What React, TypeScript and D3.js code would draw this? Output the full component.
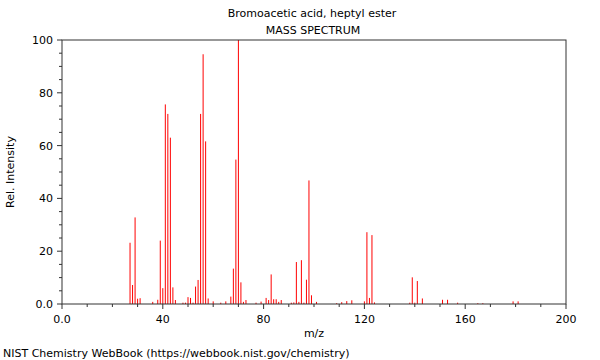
import React from "react";
import * as d3 from "d3";

const mz = [27, 28, 29, 30, 31, 36, 38, 39, 40, 41, 42, 43, 44, 45, 48, 49, 50, 51, 52, 53, 54, 55, 56, 57, 58, 60, 63, 65, 67, 68, 69, 70, 71, 72, 73, 77, 79, 81, 82, 83, 84, 85, 86, 87, 91, 92, 93, 94, 95, 96, 97, 98, 99, 101, 109, 111, 113, 115, 120, 121, 122, 123, 124, 138, 139, 140, 141, 143, 151, 153, 157, 165, 167, 179, 181];
const intensity = [23.2, 7.2, 32.8, 2, 2.2, 0.8, 1.6, 24, 6, 75.6, 72, 63, 6.3, 1.5, 0.5, 0.5, 2.6, 2.3, 0.5, 6.6, 9.1, 72, 94.6, 61.6, 2.1, 1, 0.5, 1, 2.8, 13.4, 54.7, 100, 8.2, 0.8, 1.5, 0.5, 0.9, 2.3, 1.5, 11.2, 1.8, 1.8, 0.8, 1.5, 0.5, 0.6, 15.9, 0.8, 16.6, 0.5, 9.2, 46.8, 3.3, 0.8, 0.3, 0.7, 1.1, 1.4, 1, 27.2, 2.3, 26.1, 0.6, 0.5, 10.1, 0.5, 8.7, 2.1, 1.6, 1.6, 0.5, 0.3, 0.3, 1, 1];

const xMajor = [0, 40, 80, 120, 160, 200];
const xMinor = d3.range(0, 201, 10);
const yMajor = [0, 20, 40, 60, 80, 100];
const yMinor = d3.range(0, 101, 5);

const title1 = "Bromoacetic acid, heptyl ester";
const title2 = "MASS SPECTRUM";
const xLabel = "m/z";
const yLabel = "Rel. Intensity";
const footer = "NIST Chemistry WebBook (https://webbook.nist.gov/chemistry)";

export default function App() {
  const W = 600, H = 360;
  const L = 62, R = 566, T = 40, B = 304;
  const x = d3.scaleLinear().domain([0, 200]).range([L, R]);
  const y = d3.scaleLinear().domain([0, 100]).range([B, T]);
  const font = "DejaVu Sans, sans-serif";
  const fmt = (v: number) => (v === 0 ? "0.0" : String(v));
  return (
    <svg width={W} height={H} style={{ position: "absolute", left: 0, top: 0 }} fontFamily={font}>
      <rect x={0} y={0} width={W} height={H} fill="#fff" />
      <text x={312} y={17} fontSize={11} textAnchor="middle" fill="#000">{title1}</text>
      <text x={313} y={34} fontSize={11} textAnchor="middle" fill="#000">{title2}</text>
      {mz.map((m, i) => (
        <line key={i} x1={x(m)} x2={x(m)} y1={y(0)} y2={y(intensity[i])} stroke="#ff0000" strokeWidth={1} />
      ))}
      <rect x={L} y={T} width={R - L} height={B - T} fill="none" stroke="#333" strokeWidth={1} />
      {xMinor.map((v) => (
        <line key={"xm" + v} x1={x(v)} x2={x(v)} y1={B} y2={B + (xMajor.includes(v) ? 5 : 3)} stroke="#333" />
      ))}
      {xMajor.map((v) => (
        <text key={"xl" + v} x={x(v)} y={323} fontSize={11} textAnchor="middle" fill="#000">{fmt(v)}</text>
      ))}
      {yMinor.map((v) => (
        <line key={"ym" + v} x1={L} x2={L - (yMajor.includes(v) ? 5 : 3)} y1={y(v)} y2={y(v)} stroke="#333" />
      ))}
      {yMajor.map((v) => (
        <text key={"yl" + v} x={53} y={y(v) + 4} fontSize={11} textAnchor="end" fill="#000">{fmt(v)}</text>
      ))}
      <text x={314} y={337} fontSize={11} textAnchor="middle" fill="#000">{xLabel}</text>
      <text transform={`translate(14,${(T + B) / 2}) rotate(-90)`} fontSize={11} textAnchor="middle" fill="#000">{yLabel}</text>
      <text x={3} y={357} fontSize={11} fill="#000">{footer}</text>
    </svg>
  );
}
